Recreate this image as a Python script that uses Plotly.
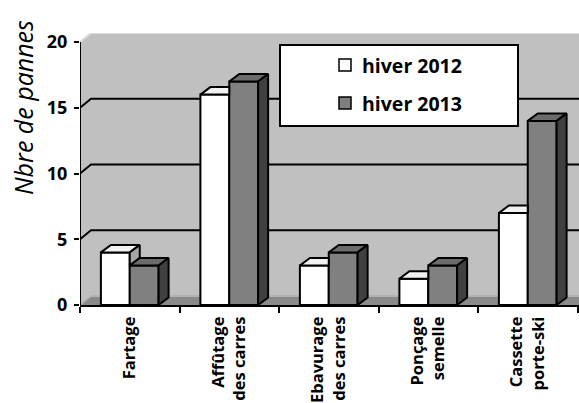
import plotly.graph_objects as go

# ---------------- data ----------------
categories = ["Fartage", "Affûtage<br>des carres", "Ebavurage<br>des carres",
              "Ponçage<br>semelle", "Cassette<br>porte-ski"]
hiver_2012 = [4, 16, 3, 2, 7]
hiver_2013 = [3, 17, 4, 3, 14]
series_names = ["hiver 2012", "hiver 2013"]
y_ticks = [0, 5, 10, 15, 20]
y_title = "Nbre de pannes"

# ---------------- layout geometry ----------------
W, H = 579, 403
ML, MR, MT, MB = 80, 0, 33, 98
plot_w = W - ML - MR
plot_h = H - MT - MB
cat_px = 99.5                     # px per category
ypx = 263 / 20                    # px per y unit
x0 = -0.5
x1 = x0 + plot_w / cat_px
y_top = plot_h / ypx
y_max = y_ticks[-1]

bar_w = 0.29
dxb, dyb = 10 / cat_px, 7.5 / ypx     # bar depth
dxw, dyw = 11 / cat_px, y_top - y_max  # wall depth

FONT = "Open Sans"
c_front = ["#ffffff", "#808080"]
c_top = ["#f2f2f2", "#6b6b6b"]
c_side = ["#a6a6a6", "#404040"]

xs = list(range(len(categories)))

fig = go.Figure()

# front faces
for k, (vals, off) in enumerate([(hiver_2012, -bar_w), (hiver_2013, 0.0)]):
    fig.add_trace(go.Bar(
        x=xs, y=vals, width=bar_w, offset=off, name=series_names[k],
        marker=dict(color=c_front[k], line=dict(color="black", width=2)),
        showlegend=False, hoverinfo="skip"))

def poly_trace(px_, py_, color):
    return go.Scatter(x=px_, y=py_, mode="lines", fill="toself", fillcolor=color,
                      line=dict(color="black", width=2), showlegend=False,
                      hoverinfo="skip")

# 3D top / side faces computed from the data
top1x, top1y, side1x, side1y = [], [], [], []
top2x, top2y, side2x, side2y = [], [], [], []
for i, (v1, v2) in enumerate(zip(hiver_2012, hiver_2013)):
    l1, r1 = i - bar_w, i
    l2, r2 = i, i + bar_w
    if v1 >= v2:
        top1x += [l1, r1, r1 + dxb, l1 + dxb, l1, None]
        top1y += [v1, v1, v1 + dyb, v1 + dyb, v1, None]
        side1x += [r1, r1, r1 + dxb, r1 + dxb, r1, None]
        side1y += [v2, v1, v1 + dyb, v2 + dyb, v2, None]
    else:
        top1x += [l1, r1, r1, l1 + dxb, l1, None]
        top1y += [v1, v1, v1 + dyb, v1 + dyb, v1, None]
    top2x += [l2, r2, r2 + dxb, l2 + dxb, l2, None]
    top2y += [v2, v2, v2 + dyb, v2 + dyb, v2, None]
    side2x += [r2, r2, r2 + dxb, r2 + dxb, r2, None]
    side2y += [0, v2, v2 + dyb, dyb, 0, None]

fig.add_trace(poly_trace(top1x, top1y, c_top[0]))
if side1x:
    fig.add_trace(poly_trace(side1x, side1y, c_side[0]))
fig.add_trace(poly_trace(top2x, top2y, c_top[1]))
fig.add_trace(poly_trace(side2x, side2y, c_side[1]))

# ---------------- walls / floor / gridlines ----------------
shapes = []
def path(pts):
    return "M " + " L ".join(f"{a},{b}" for a, b in pts) + " Z"

shapes.append(dict(type="path", xref="x", yref="y", layer="below",
                   path=path([(x0 + dxw, dyw), (x1 + 1, dyw), (x1 + 1, y_max + dyw), (x0 + dxw, y_max + dyw)]),
                   fillcolor="#c0c0c0", line=dict(width=0)))
shapes.append(dict(type="path", xref="x", yref="y", layer="below",
                   path=path([(x0, 0), (x0 + dxw, dyw), (x0 + dxw, y_max + dyw), (x0, y_max)]),
                   fillcolor="#c0c0c0", line=dict(width=0)))
shapes.append(dict(type="path", xref="x", yref="y", layer="below",
                   path=path([(x0, 0), (x1 + 1, 0), (x1 + 1, dyw), (x0 + dxw, dyw)]),
                   fillcolor="#8a8a8a", line=dict(width=0)))
shapes.append(dict(type="line", xref="x", yref="y", layer="below",
                   x0=x0 + dxw, y0=dyw, x1=x1 + 1, y1=dyw,
                   line=dict(color="#b3b3b3", width=2)))
shapes.append(dict(type="line", xref="x", yref="y", layer="below",
                   x0=x0, y0=0, x1=x0 + dxw, y1=dyw,
                   line=dict(color="#b3b3b3", width=1.5)))
for v in y_ticks[1:-1]:
    shapes.append(dict(type="path", xref="x", yref="y", layer="below",
                       path=f"M {x0},{v} L {x0 + dxw},{v + dyw} L {x1 + 1},{v + dyw}",
                       line=dict(color="black", width=2)))
shapes.append(dict(type="path", xref="x", yref="y", layer="below",
                   path=f"M {x0},{y_max} L {x0 + dxw},{y_max + dyw} L {x1 + 1},{y_max + dyw}",
                   line=dict(color="#dcdcdc", width=2)))
shapes.append(dict(type="line", xref="x", yref="y", layer="above",
                   x0=x0, y0=0, x1=x0, y1=y_max, line=dict(color="black", width=2)))

# ---------------- manual legend ----------------
def pxx(p):
    return (p - ML) / plot_w
def pxy(p):
    return (H - MB - p) / plot_h

shapes.append(dict(type="rect", xref="paper", yref="paper", layer="above",
                   x0=pxx(280), x1=pxx(518), y0=pxy(126), y1=pxy(45),
                   fillcolor="white", line=dict(color="black", width=2)))
annotations = []
for k, cy in enumerate([65, 103]):
    shapes.append(dict(type="rect", xref="paper", yref="paper", layer="above",
                       x0=pxx(339), x1=pxx(351), y0=pxy(cy + 6), y1=pxy(cy - 6),
                       fillcolor=c_front[k], line=dict(color="black", width=1.5)))
    annotations.append(dict(xref="paper", yref="paper", x=pxx(360), y=pxy(cy),
                            xanchor="left", yanchor="middle", showarrow=False,
                            text=f"<b>{series_names[k]}</b>",
                            font=dict(family=FONT, size=19.5, color="black")))

annotations.append(dict(xref="paper", yref="paper", x=pxx(23), y=pxy(108),
                        xanchor="center", yanchor="middle", showarrow=False,
                        textangle=-90, text=f"<i>{y_title}</i>",
                        font=dict(family=FONT, size=25, color="black")))

fig.update_layout(
    width=W, height=H,
    margin=dict(l=ML, r=MR, t=MT, b=MB, pad=0, autoexpand=False),
    paper_bgcolor="white", plot_bgcolor="white",
    barmode="overlay",
    showlegend=False,
    shapes=shapes, annotations=annotations,
    xaxis=dict(range=[x0, x1], tickmode="array", tickvals=xs,
               ticktext=[f"<b>{c}</b>" for c in categories],
               tickangle=-90, ticks="", showgrid=False, zeroline=False,
               showline=True, linecolor="black", linewidth=2,
               automargin=False, ticklabelstandoff=3,
               tickfont=dict(family=FONT, size=16.5, color="black"),
               minor=dict(tickmode="array", tickvals=[x0 + j for j in range(len(categories) + 1)],
                          ticks="outside", ticklen=6, tickwidth=2, tickcolor="black",
                          showgrid=False)),
    yaxis=dict(range=[0, y_top], tickmode="array", tickvals=y_ticks,
               ticktext=[f"<b>{t}</b>" for t in y_ticks],
               ticks="outside", ticklen=5, tickwidth=2, tickcolor="black",
               ticklabelstandoff=3, automargin=False,
               showgrid=False, zeroline=False, showline=False,
               tickfont=dict(family=FONT, size=18, color="black")),
)

fig.write_html("out.html")
